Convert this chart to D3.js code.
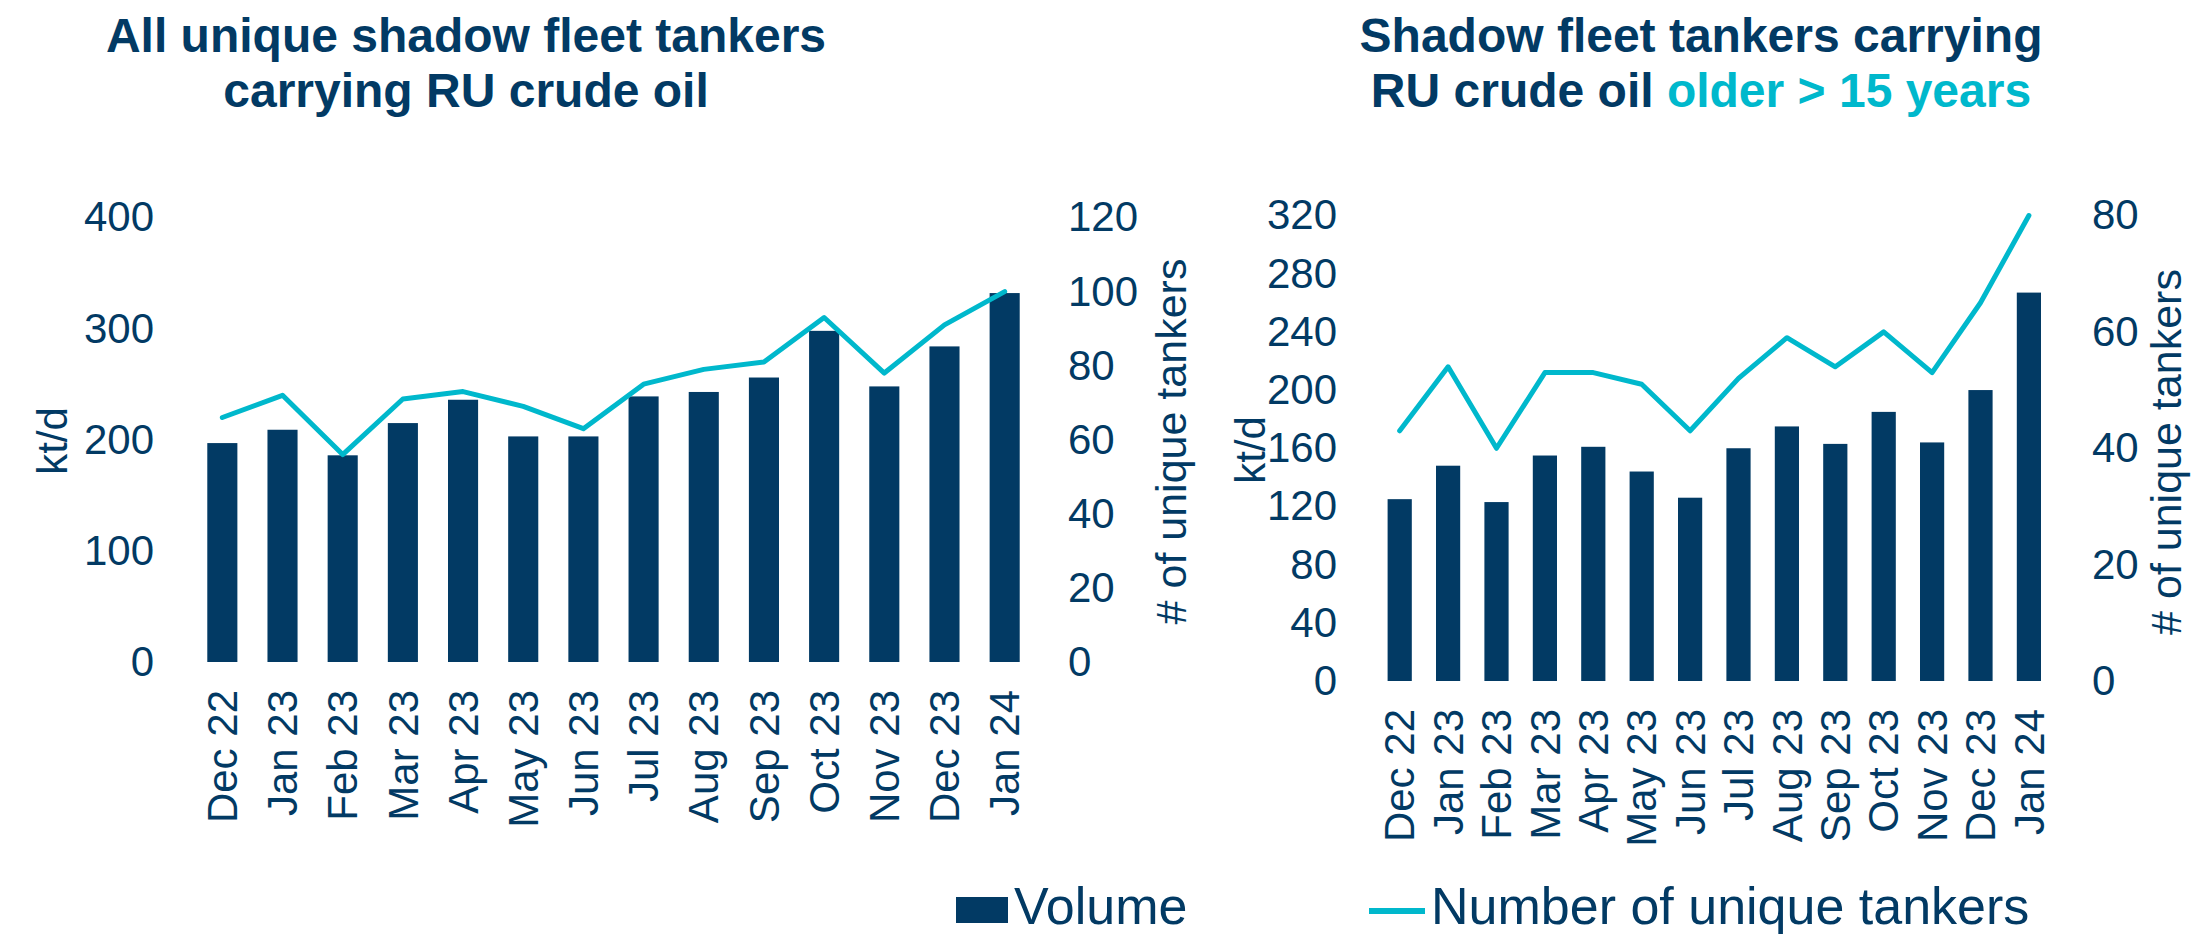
<!DOCTYPE html>
<html>
<head>
<meta charset="utf-8">
<script src="https://cdn.jsdelivr.net/npm/d3@7"></script>
<style>
  body { margin: 0; background: #fff; }
  text { font-family: 'Liberation Sans', Arial, sans-serif; }
</style>
</head>
<body>
<div id="canvas"></div>
<script>
//    data
var months = ['Dec 22','Jan 23','Feb 23','Mar 23','Apr 23','May 23','Jun 23',
              'Jul 23','Aug 23','Sep 23','Oct 23','Nov 23','Dec 23','Jan 24'];

// all unique shadow fleet tankers
var allVolume  = [197, 209, 186, 215, 236, 203, 203, 239, 243, 256, 298, 248, 284, 332];
var allTankers = [66, 72, 56, 71, 73, 69, 63, 75, 79, 81, 93, 78, 91, 100];

// tankers older than 15 years
var oldVolume  = [125, 148, 123, 155, 161, 144, 126, 160, 175, 163, 185, 164, 200, 267];
var oldTankers = [43, 54, 40, 53, 53, 51, 43, 52, 59, 54, 60, 53, 65, 80];

var allVolTicks  = [0, 100, 200, 300, 400];
var allTankTicks = [0, 20, 40, 60, 80, 100, 120];
var oldVolTicks  = [0, 40, 80, 120, 160, 200, 240, 280, 320];
var oldTankTicks = [0, 20, 40, 60, 80];

var navy = '#023a64';
var cyan = '#00b8cc';
var fs = 42;

//    svg
var svg = d3.select('#canvas')
    .append('svg')
    .attr('width', 2191)
    .attr('height', 934);

function panel(o) {
    var x = d3.scaleBand()
        .domain(months)
        .range([o.x0, o.x1])
        .paddingInner(0.5)
        .paddingOuter(0.5);
    var yL = d3.scaleLinear().domain([0, o.volMax]).range([o.yBottom, o.yTop]);
    var yR = d3.scaleLinear().domain([0, o.tankMax]).range([o.yBottom, o.yTop]);

    var g = svg.append('g');

    // bars
    g.selectAll('.bar')
        .data(o.volume)
        .enter()
        .append('rect')
        .attr('class', 'bar')
        .attr('x', function(d, i){ return x(months[i]); })
        .attr('width', x.bandwidth())
        .attr('y', function(d){ return yL(d); })
        .attr('height', function(d){ return yL(0) - yL(d); })
        .attr('fill', navy);

    // line
    var line = d3.line()
        .x(function(d, i){ return x(months[i]) + x.bandwidth() / 2; })
        .y(function(d){ return yR(d); });
    g.append('path')
        .datum(o.tankers)
        .attr('d', line)
        .attr('fill', 'none')
        .attr('stroke', cyan)
        .attr('stroke-width', 5)
        .attr('stroke-linejoin', 'round')
        .attr('stroke-linecap', 'round');

    // left axis
    var ax1 = g.append('g')
        .attr('transform', 'translate(' + o.leftLabelX + ',0)')
        .call(d3.axisLeft(yL).tickValues(o.volTicks).tickSize(0).tickPadding(0));
    // right axis
    var ax2 = g.append('g')
        .attr('transform', 'translate(' + o.rightLabelX + ',0)')
        .call(d3.axisRight(yR).tickValues(o.tankTicks).tickSize(0).tickPadding(0));
    // month axis
    var ax3 = g.append('g')
        .attr('transform', 'translate(0,' + o.yBottom + ')')
        .call(d3.axisBottom(x).tickSize(0));
    ax3.selectAll('text')
        .attr('transform', 'rotate(-90)')
        .attr('x', -28)
        .attr('y', 0)
        .attr('dy', '0.35em')
        .style('text-anchor', 'end');

    [ax1, ax2, ax3].forEach(function(a){
        a.select('.domain').remove();
        a.selectAll('text')
            .attr('fill', navy)
            .style('font-size', fs + 'px')
            .style('font-family', "'Liberation Sans', Arial, sans-serif");
    });

    // axis titles
    g.append('text')
        .attr('transform', 'translate(' + o.kLabelX + ',' + o.kLabelY + ') rotate(-90)')
        .attr('dy', '0.35em')
        .attr('text-anchor', 'middle')
        .attr('fill', navy)
        .style('font-size', fs + 'px')
        .text('kt/d');
    g.append('text')
        .attr('transform', 'translate(' + o.tLabelX + ',' + o.tLabelY + ') rotate(-90)')
        .attr('dy', '0.35em')
        .attr('text-anchor', 'middle')
        .attr('fill', navy)
        .style('font-size', '43px')
        .text('# of unique tankers');
}

panel({
    volume: allVolume, tankers: allTankers,
    volMax: 400, tankMax: 120,
    volTicks: allVolTicks, tankTicks: allTankTicks,
    x0: 177.2, x1: 1049.8, yBottom: 662, yTop: 217.5,
    leftLabelX: 154, rightLabelX: 1068,
    kLabelX: 52, kLabelY: 441, tLabelX: 1171, tLabelY: 441.5
});

panel({
    volume: oldVolume, tankers: oldTankers,
    volMax: 320, tankMax: 80,
    volTicks: oldVolTicks, tankTicks: oldTankTicks,
    x0: 1363.4, x1: 2065.2, yBottom: 681, yTop: 215.5,
    leftLabelX: 1337, rightLabelX: 2092,
    kLabelX: 1250, kLabelY: 450, tLabelX: 2166, tLabelY: 452
});

//    titles
var title1 = svg.append('text')
    .attr('text-anchor', 'middle')
    .attr('fill', navy)
    .style('font-size', '48px')
    .style('font-weight', 'bold');
title1.append('tspan').attr('x', 466).attr('y', 52).text('All unique shadow fleet tankers');
title1.append('tspan').attr('x', 466).attr('y', 107).text('carrying RU crude oil');

var title2 = svg.append('text')
    .attr('text-anchor', 'middle')
    .attr('fill', navy)
    .style('font-size', '48px')
    .style('font-weight', 'bold');
title2.append('tspan').attr('x', 1701).attr('y', 52).text('Shadow fleet tankers carrying');
var t2 = title2.append('tspan').attr('x', 1701).attr('y', 107);
t2.append('tspan').text('RU crude oil ');
t2.append('tspan').attr('fill', cyan).text('older > 15 years');

//    legend
svg.append('rect')
    .attr('x', 956)
    .attr('y', 897)
    .attr('width', 52)
    .attr('height', 26)
    .attr('fill', navy);
svg.append('text')
    .attr('x', 1014)
    .attr('y', 924)
    .attr('fill', navy)
    .style('font-size', '52px')
    .text('Volume');
svg.append('line')
    .attr('x1', 1369)
    .attr('x2', 1425)
    .attr('y1', 911)
    .attr('y2', 911)
    .attr('stroke', cyan)
    .attr('stroke-width', 6);
svg.append('text')
    .attr('x', 1431)
    .attr('y', 924)
    .attr('fill', navy)
    .style('font-size', '52px')
    .text('Number of unique tankers');
</script>
</body>
</html>
